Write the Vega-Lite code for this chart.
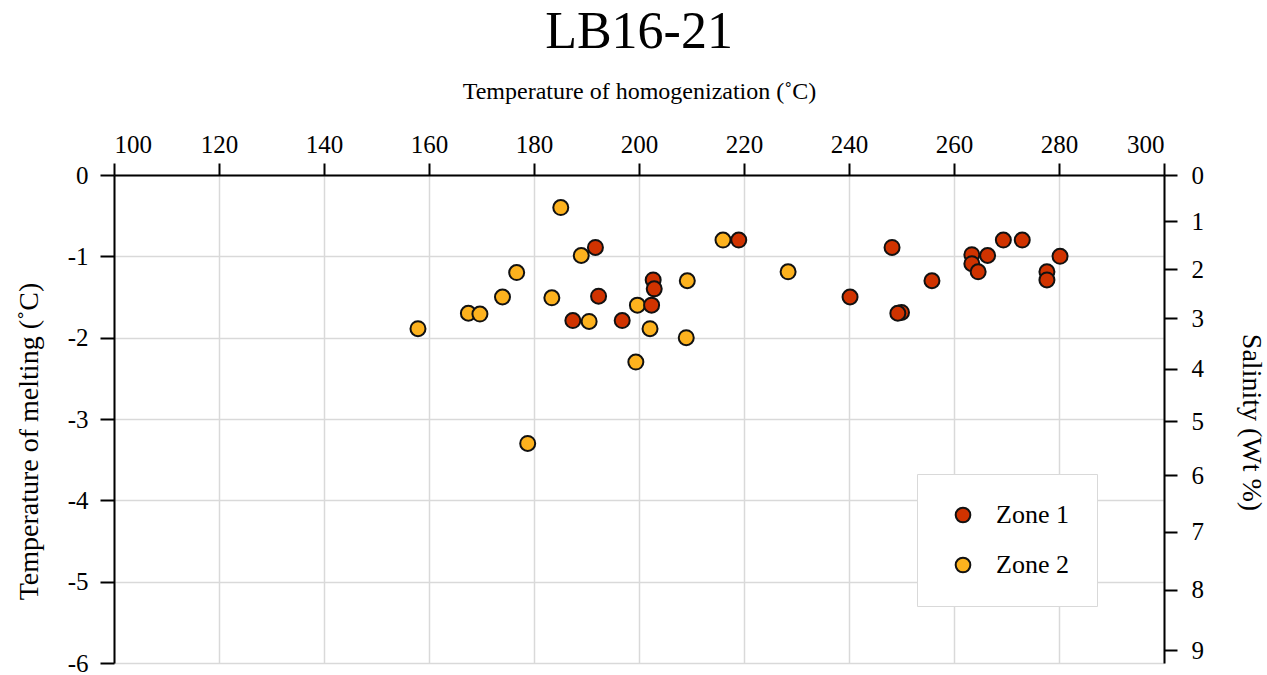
{
  "$schema": "https://vega.github.io/schema/vega-lite/v6.json",
  "width": 1050,
  "height": 488,
  "autosize": "none",
  "padding": {"left": 114, "top": 175, "right": 103, "bottom": 12},
  "background": "white",
  "config": {
    "font": "Liberation Serif",
    "view": {"stroke": null},
    "axis": {"labelFont": "Liberation Serif", "titleFont": "Liberation Serif", "labelColor": "black", "titleColor": "black", "titleFontWeight": "normal", "labelFontSize": 25, "titleFontSize": 24, "gridColor": "#d9d9d9", "gridWidth": 1.5, "domainColor": "black", "domainWidth": 2, "tickColor": "black", "tickWidth": 2, "labelExpr": "replace(datum.label, '\u2212', '-')"}
  },
  "title": {"text": "LB16-21", "fontSize": 52, "font": "Liberation Serif", "fontWeight": "normal", "color": "black", "anchor": "middle", "offset": 20},
  "layer": [
    {
      "data": {"values": [
        {"Th": 191.7, "Tm": -0.89, "Zone": "Zone 1"},
        {"Th": 192.3, "Tm": -1.49, "Zone": "Zone 1"},
        {"Th": 187.4, "Tm": -1.79, "Zone": "Zone 1"},
        {"Th": 196.8, "Tm": -1.79, "Zone": "Zone 1"},
        {"Th": 185.1, "Tm": -0.40, "Zone": "Zone 2"},
        {"Th": 189.0, "Tm": -0.99, "Zone": "Zone 2"},
        {"Th": 176.7, "Tm": -1.20, "Zone": "Zone 2"},
        {"Th": 174.0, "Tm": -1.50, "Zone": "Zone 2"},
        {"Th": 183.4, "Tm": -1.51, "Zone": "Zone 2"},
        {"Th": 167.5, "Tm": -1.70, "Zone": "Zone 2"},
        {"Th": 169.7, "Tm": -1.71, "Zone": "Zone 2"},
        {"Th": 157.9, "Tm": -1.89, "Zone": "Zone 2"},
        {"Th": 190.5, "Tm": -1.80, "Zone": "Zone 2"},
        {"Th": 199.7, "Tm": -1.60, "Zone": "Zone 2"},
        {"Th": 202.1, "Tm": -1.89, "Zone": "Zone 2"},
        {"Th": 209.2, "Tm": -1.30, "Zone": "Zone 2"},
        {"Th": 209.0, "Tm": -2.00, "Zone": "Zone 2"},
        {"Th": 199.4, "Tm": -2.30, "Zone": "Zone 2"},
        {"Th": 178.8, "Tm": -3.30, "Zone": "Zone 2"},
        {"Th": 216.0, "Tm": -0.80, "Zone": "Zone 2"},
        {"Th": 228.4, "Tm": -1.19, "Zone": "Zone 2"},
        {"Th": 202.7, "Tm": -1.29, "Zone": "Zone 1"},
        {"Th": 202.9, "Tm": -1.40, "Zone": "Zone 1"},
        {"Th": 202.4, "Tm": -1.60, "Zone": "Zone 1"},
        {"Th": 219.0, "Tm": -0.80, "Zone": "Zone 1"},
        {"Th": 240.2, "Tm": -1.50, "Zone": "Zone 1"},
        {"Th": 248.2, "Tm": -0.89, "Zone": "Zone 1"},
        {"Th": 250.0, "Tm": -1.69, "Zone": "Zone 1"},
        {"Th": 249.3, "Tm": -1.70, "Zone": "Zone 1"},
        {"Th": 255.8, "Tm": -1.30, "Zone": "Zone 1"},
        {"Th": 263.4, "Tm": -0.98, "Zone": "Zone 1"},
        {"Th": 263.4, "Tm": -1.09, "Zone": "Zone 1"},
        {"Th": 266.4, "Tm": -0.99, "Zone": "Zone 1"},
        {"Th": 264.6, "Tm": -1.19, "Zone": "Zone 1"},
        {"Th": 269.4, "Tm": -0.80, "Zone": "Zone 1"},
        {"Th": 273.0, "Tm": -0.80, "Zone": "Zone 1"},
        {"Th": 277.7, "Tm": -1.19, "Zone": "Zone 1"},
        {"Th": 277.7, "Tm": -1.29, "Zone": "Zone 1"},
        {"Th": 280.2, "Tm": -1.00, "Zone": "Zone 1"}
      ]},
      "mark": {"type": "point", "shape": "circle", "filled": true, "size": 225, "opacity": 1, "stroke": "#111111", "strokeWidth": 2},
      "encoding": {
        "x": {"field": "Th", "type": "quantitative", "scale": {"domain": [100, 300], "nice": false, "zero": false},
          "axis": {"orient": "top", "title": "Temperature of homogenization (˚C)", "values": [100, 120, 140, 160, 180, 200, 220, 240, 260, 280, 300], "tickSize": 12, "labelPadding": 6, "titlePadding": 29, "grid": true}},
        "y": {"field": "Tm", "type": "quantitative", "scale": {"domain": [-6, 0], "nice": false, "zero": false},
          "axis": {"orient": "left", "title": "Temperature of melting (˚C)", "titleFontSize": 28, "titleX": -71, "titleY": 266, "titleBaseline": "bottom", "values": [-6, -5, -4, -3, -2, -1, 0], "tickSize": 14, "labelPadding": 12, "grid": true}},
        "color": {"field": "Zone", "type": "nominal", "scale": {"domain": ["Zone 1", "Zone 2"], "range": ["#d03300", "#fdb21e"]},
          "legend": {"title": null, "orient": "none", "legendX": 803, "legendY": 299, "fillColor": "white", "strokeColor": "#d9d9d9", "padding": 28, "labelFont": "Liberation Serif", "labelFontSize": 26, "labelColor": "black", "labelOffset": 20, "rowPadding": 24, "symbolOffset": 5, "symbolSize": 215, "symbolStrokeColor": "#111111", "symbolStrokeWidth": 2, "symbolType": "circle", "symbolOpacity": 1}}
      }
    },
    {
      "mark": {"type": "point", "opacity": 0},
      "encoding": {
        "y": {"datum": 0, "type": "quantitative",
          "axis": {"orient": "right", "title": "Salinity (Wt %)", "titleFontSize": 28, "titleX": 72, "titleY": 247, "titleAngle": 90, "titleBaseline": "bottom", "values": [0, -0.5697, -1.1563, -1.7607, -2.384, -3.028, -3.694, -4.3835, -5.0984, -5.8409], "labelExpr": "format(1.78*(-datum.value) - 0.0442*pow(datum.value,2) - 0.000557*pow(datum.value,3), '.0f')", "tickSize": 13, "labelPadding": 14, "grid": false}}
      }
    }
  ],
  "resolve": {"axis": {"y": "independent"}}
}
